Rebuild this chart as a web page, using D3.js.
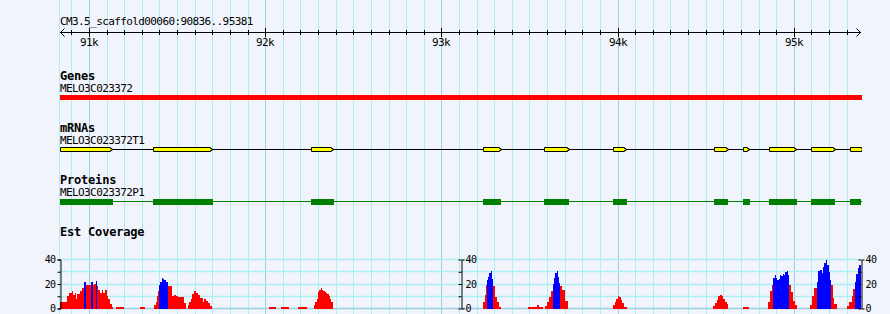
<!DOCTYPE html>
<html>
<head>
<meta charset="utf-8">
<script src="https://cdn.jsdelivr.net/npm/d3@7"></script>
<style>
  html, body { margin: 0; padding: 0; background: #f1f4fa; }
  svg { display: block; }
  text { font-family: 'DejaVu Sans Mono', monospace; fill: #000; }
</style>
</head>
<body>
<div id="chart"></div>
<script>
const refName = 'CM3.5_scaffold00060';
const regionStart = 90836;
const regionEnd = 95381;

const trackLabels = ['Genes', 'mRNAs', 'Proteins', 'Est Coverage'];
const geneName = 'MELO3C023372';
const gene = [90836, 95381];
const mrnaName = 'MELO3C023372T1';
const mrnaExons = [
  [90836, 91120], [91365, 91687], [92262, 92372], [93238, 93325], [93584, 93711],
  [93976, 94038], [94549, 94613], [94713, 94736], [94861, 95003], [95099, 95220],
  [95320, 95381]
];
const proteinName = 'MELO3C023372P1';
const cdsParts = [
  [90836, 91135], [91364, 91702], [92260, 92389], [93236, 93338], [93582, 93724],
  [93974, 94053], [94547, 94626], [94711, 94751], [94859, 95018], [95097, 95233],
  [95318, 95381]
];

// EST coverage, [start, end, depth]
const covRed = [
  [90836, 90878, 5], [90878, 90887, 10], [90887, 90902, 13], [90902, 90912, 14], [90912, 90921, 11],
  [90921, 90929, 13], [90929, 90934, 8], [90934, 90949, 12], [90949, 90959, 14], [90959, 90972, 17],
  [90983, 91010, 19.5], [91021, 91031, 19], [91031, 91040, 20], [91046, 91053, 18], [91053, 91063, 15],
  [91063, 91072, 13], [91072, 91082, 15], [91082, 91091, 13], [91091, 91101, 15], [91101, 91110, 10.5],
  [91110, 91120, 8], [91120, 91129, 4], [91129, 91135, 1.5],
  [91154, 91199, 1.5], [91290, 91318, 1.5],
  [91369, 91379, 2.5], [91379, 91384, 5], [91384, 91390, 10.5], [91390, 91398, 14.5],
  [91447, 91473, 18], [91473, 91483, 10.5], [91483, 91494, 11], [91494, 91507, 10], [91507, 91541, 9],
  [91541, 91551, 4.5],
  [91560, 91568, 2.5], [91568, 91579, 5], [91579, 91587, 8], [91587, 91594, 12], [91594, 91606, 14],
  [91606, 91617, 13], [91617, 91628, 11], [91628, 91647, 8.5], [91647, 91655, 5], [91655, 91666, 8],
  [91666, 91674, 6.5], [91674, 91685, 4.5], [91685, 91696, 2],
  [92022, 92062, 1.5], [92090, 92135, 1.5], [92186, 92237, 1.5],
  [92277, 92285, 2.5], [92285, 92292, 5], [92292, 92300, 8], [92300, 92307, 13.5], [92307, 92315, 15],
  [92315, 92323, 16.5], [92323, 92330, 15], [92330, 92338, 14], [92338, 92345, 13.5], [92345, 92353, 13],
  [92353, 92360, 12], [92360, 92368, 10.5], [92368, 92375, 8], [92375, 92383, 5],
  [93236, 93246, 5], [93246, 93251, 11], [93251, 93257, 19],
  [93295, 93306, 18], [93306, 93316, 9], [93316, 93325, 5], [93325, 93336, 1.5],
  [93491, 93542, 1.5], [93542, 93556, 2.5], [93556, 93575, 1.5],
  [93586, 93597, 2], [93597, 93609, 5], [93609, 93620, 9], [93620, 93631, 14],
  [93675, 93686, 18], [93686, 93703, 15], [93703, 93718, 6],
  [93974, 93983, 2.5], [93983, 93993, 5], [93993, 94002, 8], [94002, 94010, 10], [94010, 94017, 9],
  [94017, 94025, 7], [94025, 94034, 4.5], [94034, 94053, 1.5],
  [94543, 94553, 2], [94553, 94562, 4.5], [94562, 94571, 7], [94571, 94581, 10], [94581, 94590, 11],
  [94590, 94600, 10], [94600, 94609, 8], [94609, 94619, 5.5], [94619, 94628, 3.5],
  [94709, 94747, 1.5],
  [94855, 94865, 5], [94865, 94874, 14], [94874, 94883, 19.5],
  [94974, 94986, 19], [94986, 94997, 13.5], [94997, 95008, 6.5], [95008, 95016, 2.5],
  [95091, 95105, 3], [95105, 95116, 10], [95116, 95129, 17],
  [95209, 95220, 19.5], [95220, 95230, 8.5], [95230, 95243, 4],
  [95299, 95315, 2], [95315, 95328, 5], [95328, 95337, 10.5], [95337, 95347, 16]
];
const covBlue = [
  [90972, 90983, 22], [91010, 91021, 21.5], [91040, 91046, 22.5],
  [91398, 91405, 19], [91405, 91413, 22], [91413, 91420, 25], [91420, 91428, 24], [91428, 91439, 23],
  [91439, 91447, 21.5],
  [93257, 93264, 23], [93264, 93272, 26], [93272, 93280, 29], [93280, 93287, 30.5], [93287, 93295, 24],
  [93631, 93639, 20], [93639, 93646, 25], [93646, 93654, 29], [93654, 93662, 31], [93662, 93669, 26],
  [93669, 93675, 21],
  [94883, 94891, 24.5], [94891, 94899, 27], [94899, 94906, 25], [94906, 94914, 23.5], [94914, 94921, 24],
  [94921, 94929, 27], [94929, 94936, 26.5], [94936, 94944, 28], [94944, 94952, 27], [94952, 94959, 29.5],
  [94959, 94967, 31], [94967, 94974, 27],
  [95129, 95139, 22], [95139, 95148, 30.5], [95148, 95158, 31.5], [95158, 95167, 29], [95167, 95173, 34],
  [95173, 95182, 37], [95182, 95190, 40], [95190, 95197, 35.5], [95197, 95205, 30], [95205, 95209, 23],
  [95347, 95354, 22], [95354, 95362, 28], [95362, 95369, 33], [95369, 95381, 35.5]
];
const covTicks = [0, 10, 20, 30, 40];
const covLabels = [0, 20, 40];

const width = 890;
const height = 314;
const colors = {
  bg: '#f1f4fa',
  grid: '#aeeef2',
  gridMajor: '#9bd0e4',
  gene: '#ff0000',
  exon: '#ffff00',
  cds: '#008000',
  covRed: '#ff0000',
  covBlue: '#0000ff'
};

const x = d3.scaleLinear().domain([regionStart, regionEnd]).range([60, 861]);
const yCov = d3.scaleLinear().domain([0, 40]).range([308.5, 259.5]);
const covBase = 308.5;

const svg = d3.select('#chart').append('svg')
  .attr('width', width)
  .attr('height', height)
  .attr('viewBox', `0 0 ${width} ${height}`);

svg.append('rect').attr('width', width).attr('height', height).attr('fill', colors.bg);

// vertical grid every 100 bp
const gridTicks = d3.range(Math.ceil(regionStart / 100) * 100, regionEnd, 100);
const grid = svg.append('g').attr('shape-rendering', 'crispEdges');
grid.append('line')
  .attr('x1', 59.5).attr('x2', 59.5).attr('y1', 0).attr('y2', height)
  .attr('stroke', colors.grid);
grid.selectAll('line.v').data(gridTicks).join('line')
  .attr('class', 'v')
  .attr('x1', d => Math.round(x(d)) + 0.5)
  .attr('x2', d => Math.round(x(d)) + 0.5)
  .attr('y1', 0).attr('y2', height)
  .attr('stroke', d => (d % 1000 === 0 ? colors.gridMajor : colors.grid));

// ruler
const ruler = svg.append('g').attr('shape-rendering', 'crispEdges');
const rulerY = 32.5;
ruler.append('text').attr('x', 60).attr('y', 25)
  .attr('font-size', 11).attr('letter-spacing', -0.6)
  .text(`${refName}:${regionStart}..${regionEnd}`);
ruler.append('line').attr('x1', 60).attr('x2', 861).attr('y1', rulerY).attr('y2', rulerY).attr('stroke', '#000');
ruler.append('path')
  .attr('d', `M64.5,28.5L60.5,${rulerY}L64.5,36.5M856.5,28.5L860.5,${rulerY}L856.5,36.5`)
  .attr('fill', 'none').attr('stroke', '#000').attr('shape-rendering', 'auto');
ruler.selectAll('line.tick').data(gridTicks).join('line')
  .attr('class', 'tick')
  .attr('x1', d => Math.round(x(d)) + 0.5)
  .attr('x2', d => Math.round(x(d)) + 0.5)
  .attr('y1', d => (d % 1000 === 0 ? 28 : 30))
  .attr('y2', d => (d % 1000 === 0 ? 37 : 35))
  .attr('stroke', '#000');
ruler.selectAll('text.lbl').data(gridTicks.filter(d => d % 1000 === 0)).join('text')
  .attr('class', 'lbl')
  .attr('x', d => Math.round(x(d)))
  .attr('y', 46)
  .attr('text-anchor', 'middle')
  .attr('font-size', 11).attr('letter-spacing', -0.6)
  .text(d => `${d / 1000}k`);

// track labels
const labelY = [80, 131.7, 183.7, 235.5];
svg.selectAll('text.track').data(trackLabels).join('text')
  .attr('class', 'track')
  .attr('x', 60)
  .attr('y', (d, i) => labelY[i])
  .attr('font-size', 12).attr('font-weight', 'bold').attr('letter-spacing', -0.2)
  .text(d => d);

const names = [[geneName, 92.3], [mrnaName, 144], [proteinName, 196]];
svg.selectAll('text.fname').data(names).join('text')
  .attr('class', 'fname')
  .attr('x', 60).attr('y', d => d[1])
  .attr('font-size', 11).attr('letter-spacing', -0.6)
  .text(d => d[0]);

const clip = svg.append('clipPath').attr('id', 'panel');
clip.append('rect').attr('x', 59).attr('y', 0).attr('width', 803).attr('height', height);

const tracks = svg.append('g').attr('clip-path', 'url(#panel)');

// gene
tracks.append('rect')
  .attr('x', x(gene[0])).attr('width', x(gene[1]) - x(gene[0]) + 1)
  .attr('y', 95).attr('height', 5)
  .attr('fill', colors.gene)
  .attr('shape-rendering', 'crispEdges');

// mRNA
tracks.append('line')
  .attr('x1', x(gene[0])).attr('x2', x(gene[1]) + 1)
  .attr('y1', 149.5).attr('y2', 149.5)
  .attr('stroke', '#000').attr('shape-rendering', 'crispEdges');
tracks.selectAll('path.exon').data(mrnaExons).join('path')
  .attr('class', 'exon')
  .attr('d', d => {
    const x0 = Math.round(x(d[0])) + 0.5;
    const x1 = Math.round(x(d[1])) + 0.5;
    return `M${x0},147.5H${x1}V148.5H${x1 + 1.5}V150.5H${x1}V151.5H${x0}Z`;
  })
  .attr('fill', colors.exon)
  .attr('stroke', '#000')
  .attr('stroke-width', 1);

// proteins
tracks.append('line')
  .attr('x1', x(gene[0])).attr('x2', x(gene[1]) + 1)
  .attr('y1', 201.5).attr('y2', 201.5)
  .attr('stroke', colors.cds).attr('shape-rendering', 'crispEdges');
tracks.selectAll('rect.cds').data(cdsParts).join('rect')
  .attr('class', 'cds')
  .attr('x', d => Math.round(x(d[0])))
  .attr('width', d => Math.round(x(d[1])) - Math.round(x(d[0])))
  .attr('y', 199).attr('height', 6)
  .attr('fill', colors.cds)
  .attr('shape-rendering', 'crispEdges');

// coverage grid
const cov = svg.append('g');
cov.selectAll('line.h').data(covTicks).join('line')
  .attr('class', 'h')
  .attr('x1', 60).attr('x2', 861)
  .attr('y1', d => Math.round(yCov(d) - 0.5) + 0.5)
  .attr('y2', d => Math.round(yCov(d) - 0.5) + 0.5)
  .attr('stroke', d => (d === 0 ? colors.gridMajor : colors.grid))
  .attr('stroke-width', 1.3);

const bars = cov.append('g').attr('clip-path', 'url(#panel)').attr('shape-rendering', 'crispEdges');
const drawBars = (data, color) => bars.append('g').selectAll('rect').data(data).join('rect')
  .attr('x', d => x(d[0]))
  .attr('width', d => Math.max(1, x(d[1]) - x(d[0])))
  .attr('y', d => yCov(d[2]))
  .attr('height', d => covBase - yCov(d[2]))
  .attr('fill', color);
drawBars(covRed, colors.covRed);
drawBars(covBlue, colors.covBlue);

// coverage axes
const tickFmt = d => (covLabels.includes(d) ? d : '');
const styleAxis = g => {
  g.select('.domain').attr('stroke', '#000');
  g.selectAll('.tick line').attr('stroke', '#000');
  g.selectAll('.tick text')
    .attr('font-family', 'DejaVu Sans Mono, monospace')
    .attr('font-size', 10).attr('letter-spacing', -0.6).attr('fill', '#000');
};
cov.append('g')
  .attr('transform', 'translate(60.5,0)')
  .call(d3.axisLeft(yCov).tickValues(covTicks).tickFormat(tickFmt).tickSizeInner(3).tickSizeOuter(3).tickPadding(2))
  .call(styleAxis);
const midX = Math.round((x.range()[0] + x.range()[1]) / 2) + 0.5;
[midX, 861.5].forEach(px => {
  cov.append('g')
    .attr('transform', `translate(${px},0)`)
    .call(d3.axisRight(yCov).tickValues(covTicks).tickFormat(tickFmt).tickSizeInner(-3).tickSizeOuter(3).tickPadding(4))
    .call(styleAxis);
});
</script>
</body>
</html>
